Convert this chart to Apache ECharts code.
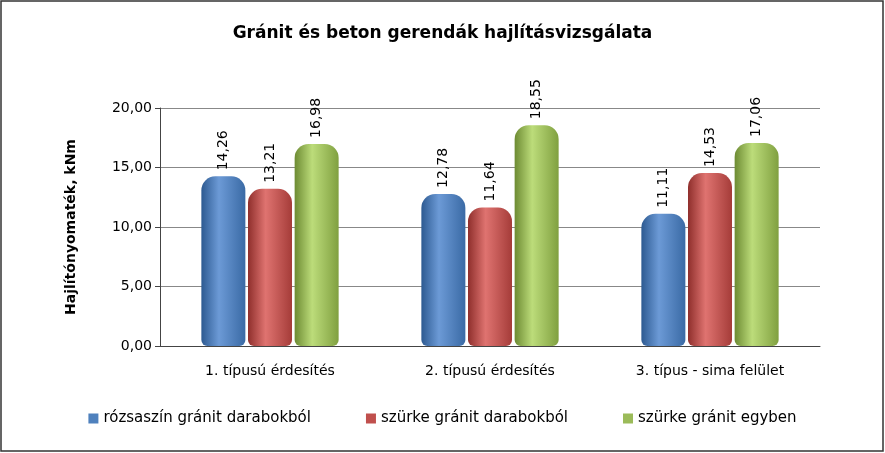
<!DOCTYPE html>
<html><head><meta charset="utf-8">
<script src="https://cdn.jsdelivr.net/npm/echarts@6/dist/echarts.min.js"></script>
<style>html,body{margin:0;padding:0;background:#fff}#c{width:885px;height:453px}</style>
</head><body><div id="c"></div>
<script>
var categories = ['1. típusú érdesítés', '2. típusú érdesítés', '3. típus - sima felület'];
var seriesNames = ['rózsaszín gránit darabokból', 'szürke gránit darabokból', 'szürke gránit egyben'];
var rozsaszin = [14.26, 12.78, 11.11];
var szurkeDarab = [13.21, 11.64, 14.53];
var szurkeEgyben = [16.98, 18.55, 17.06];
var colors = [['#2d5a91','#6c9ad6','#3a6aa5','#4F81BD'], ['#8f2f2c','#df7370','#a53c39','#C0504D'], ['#6d8b33','#bcdc7a','#80a040','#9BBB59']];
function grad(c){return new echarts.graphic.LinearGradient(0,0,1,0,[{offset:0,color:c[0]},{offset:0.4,color:c[1]},{offset:1,color:c[2]}]);}
var fmt = function(v){return v.toFixed(2).replace('.',',');};
var datas = [rozsaszin, szurkeDarab, szurkeEgyben];
var chart = echarts.init(document.getElementById('c'));
chart.setOption({
  animation:false,
  textStyle:{fontFamily:'DejaVu Sans'},
  title:{text:'Gránit és beton gerendák hajlításvizsgálata',left:'center',top:20,textStyle:{fontSize:17,fontWeight:'bold',color:'#000'}},
  graphic:[{type:'rect',shape:{x:1,y:1,width:882,height:450},style:{fill:'none',stroke:'#333',lineWidth:1.5}}],
  legend:{bottom:22,itemWidth:10,itemHeight:10,itemGap:55,icon:'rect',textStyle:{fontSize:15,color:'#000'},data:seriesNames.map(function(n,i){return {name:n,itemStyle:{color:colors[i][3]}};})},
  grid:{left:160,right:65,top:108,bottom:107},
  xAxis:{type:'category',data:categories,axisTick:{show:false},axisLine:{lineStyle:{color:'#444'}},axisLabel:{fontSize:14,color:'#000',margin:18}},
  yAxis:{type:'value',min:0,max:20,interval:5,name:'Hajlítónyomaték, kNm',nameLocation:'middle',nameGap:82,nameTextStyle:{fontSize:14,fontWeight:'bold',color:'#000'},
    axisLine:{show:true,lineStyle:{color:'#444'}},axisTick:{show:true,lineStyle:{color:'#444'}},
    axisLabel:{fontSize:14,color:'#000',formatter:fmt},splitLine:{lineStyle:{color:'#888'}}},
  series:datas.map(function(d,i){return {name:seriesNames[i],type:'bar',data:d,barWidth:44,barGap:'6%',
    itemStyle:{color:grad(colors[i]),borderRadius:[14,14,6,6]},
    label:{show:true,position:'top',rotate:90,align:'left',verticalAlign:'middle',distance:6,fontSize:14,color:'#000',formatter:function(p){return fmt(p.value);}}};})
});
</script></body></html>
